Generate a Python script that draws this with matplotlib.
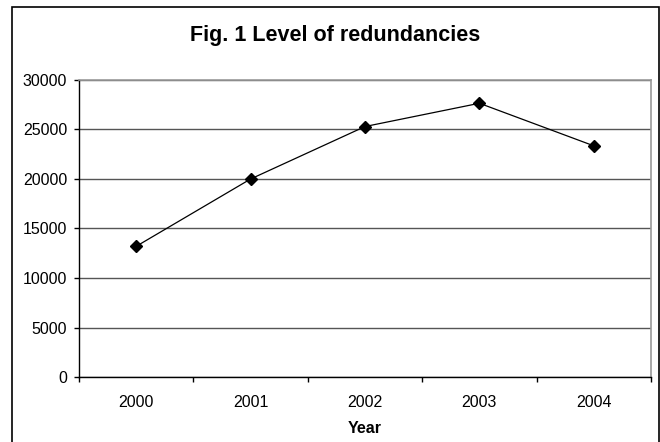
import matplotlib.pyplot as plt
from matplotlib.patches import Rectangle

years = ["2000", "2001", "2002", "2003", "2004"]
redundancies = [13200, 20000, 25300, 27650, 23350]
y_ticks = [0, 5000, 10000, 15000, 20000, 25000, 30000]

plt.rcParams["font.family"] = ["Liberation Sans", "DejaVu Sans"]

W, H = 660, 442
fig = plt.figure(figsize=(W / 100, H / 100), dpi=100)

# outer chart border (bottom runs off the image)
fig.patches.append(Rectangle((12 / W, -0.05), (659 - 12) / W, 1.05 - 7 / H,
                             transform=fig.transFigure, fill=False,
                             edgecolor="black", linewidth=1.2))

ax = fig.add_axes([79 / W, 1 - 377 / H, (651 - 79) / W, (377 - 80) / H])
x = [i + 0.5 for i in range(len(years))]
ax.plot(x, redundancies, color="black", linewidth=0.9, marker="D",
        markersize=6.5, markerfacecolor="black", zorder=3)

ax.set_xlim(0, len(years))
ax.set_ylim(0, 30000)
ax.set_yticks(y_ticks)
ax.set_yticklabels([str(v) for v in y_ticks], fontsize=11.5)
ax.set_xticks(x)
ax.set_xticklabels(years, fontsize=11.5)
ax.set_xticks(range(len(years) + 1), minor=True)
ax.tick_params(axis="x", which="major", length=0, pad=13)
ax.tick_params(axis="x", which="minor", length=3.5, width=1, color="black")
ax.tick_params(axis="y", length=3.5, width=1, pad=5)
ax.grid(axis="y", color="#555555", linewidth=1)
ax.set_axisbelow(True)

for side in ["top", "right"]:
    ax.spines[side].set_color("#999999")
    ax.spines[side].set_linewidth(1.2)
for side in ["left", "bottom"]:
    ax.spines[side].set_color("black")
    ax.spines[side].set_linewidth(1)

ax.set_xlabel("Year", fontsize=11.5, fontweight="bold", labelpad=8)
fig.text(335.5 / W, 1 - 35.5 / H, "Fig. 1 Level of redundancies", ha="center",
         va="center", fontsize=15.5, fontweight="bold")

fig.savefig("out.png", dpi=100)
